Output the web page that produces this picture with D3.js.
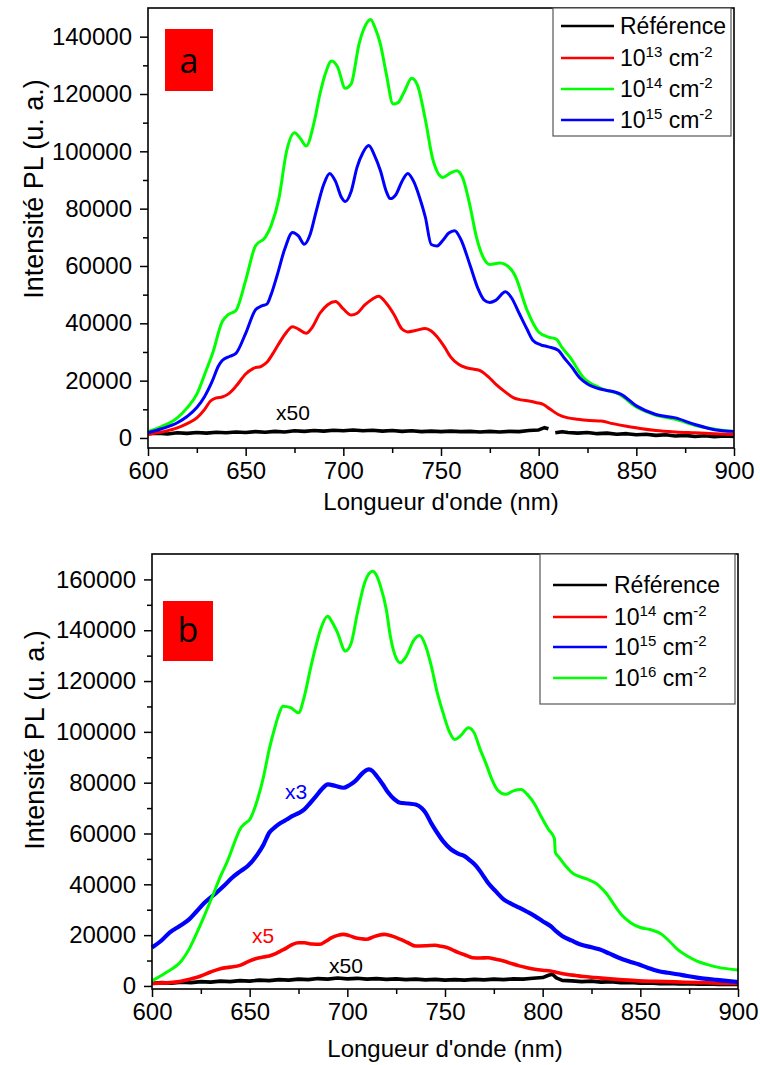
<!DOCTYPE html>
<html><head><meta charset="utf-8">
<script src="https://cdnjs.cloudflare.com/ajax/libs/d3/7.8.5/d3.min.js"></script>
<style>body{margin:0;background:#fff}svg{display:block}</style>
</head><body>
<svg id="chart" width="760" height="1065"></svg>
<script>
// ---------- Axes / legend labels ----------
const xTicks = [600, 650, 700, 750, 800, 850, 900];
const aYTicks = [0, 20000, 40000, 60000, 80000, 100000, 120000, 140000];
const bYTicks = [0, 20000, 40000, 60000, 80000, 100000, 120000, 140000, 160000];
const aLegend = ["Référence", ["10", "13"], ["10", "14"], ["10", "15"]];
const bLegend = ["Référence", ["10", "14"], ["10", "15"], ["10", "16"]];

// ---------- Data: panel a ----------
const aRef = [[600,1500],[605,1700],[610,1400],[615,1800],[620,1600],[625,1900],[630,1700],[635,2000],[640,1800],[645,2100],[650,1900],[655,2200],[660,2000],[665,2300],[670,2100],[675,2500],[680,2300],[685,2600],[690,2400],[695,2700],[700,2500],[705,2800],[710,2500],[715,2700],[720,2400],[725,2600],[730,2300],[735,2500],[740,2200],[745,2400],[750,2200],[755,2400],[760,2200],[765,2300],[770,2100],[775,2300],[780,2100],[785,2300],[790,2200],[795,2600],[800,2800],[803,3600],[805,3200],[806.5,null],[808.5,1800],[812,2200],[815,1900],[820,1700],[825,1900],[830,1500],[835,1700],[840,1300],[845,1500],[850,1100],[855,1300],[860,900],[865,1100],[870,700],[875,900],[880,500],[885,800],[890,400],[895,700],[900,500]];
const a13 = [[600,1200],[608,2200],[615,3500],[620,5000],[625,7000],[629,10000],[632,12900],[635,14000],[638,14300],[641,15300],[645,18000],[650,22300],[654,24300],[658,25000],[661,26500],[664,29500],[667,32900],[671,37000],[674,38800],[677,38000],[681,36500],[684,38500],[688,43500],[692,46500],[696,47600],[700,45000],[704,42900],[707,43500],[711,46400],[715,48500],[718,49400],[722,47000],[726,43000],[730,38000],[733,37000],[737,37500],[742,38200],[745,37300],[748,35300],[752,31500],[755,28200],[759,25700],[763,24500],[767,24000],[770,23500],[774,21500],[778,18800],[783,16000],[787,14100],[791,13300],[795,12900],[799,12300],[802,11800],[806,10000],[810,8200],[815,7000],[820,6500],[826,6100],[832,5900],[838,5000],[845,4100],[852,3300],[860,2600],[870,2100],[880,1800],[890,1500],[900,1200]];
const a14 = [[600,2300],[607,4000],[615,7000],[620,10500],[625,15300],[630,24000],[633,29400],[638,40600],[641,43000],[645,44500],[650,55000],[655,67000],[660,70000],[663,74000],[667,83500],[671,100200],[675,106500],[678,104500],[681,101900],[685,110000],[688,119900],[691,127500],[694,131500],[697,129500],[701,122000],[704,123500],[708,137300],[711,143500],[714,146000],[716,143500],[719,137300],[722,127000],[725.5,116500],[728,117000],[731,120500],[735,125500],[738,123000],[742,111000],[746,96700],[751,90900],[755,92500],[758,93200],[761,90900],[765,80500],[768,70500],[772,62500],[775,60500],[780,61000],[783,60500],[788,56500],[794,44700],[800,37000],[805,35200],[809,34500],[812,31500],[816,28200],[823,21000],[831,17600],[835,16500],[839,15900],[843,14500],[849,11200],[859,8200],[870,6500],[882,4100],[891,3000],[900,2300]];
const a15 = [[600,1800],[607,3200],[615,5300],[620,7500],[625,10600],[629,14500],[633,20000],[636,25000],[638,27000],[642,28500],[645,29500],[650,36500],[655,44700],[658,46000],[661,46800],[663,50000],[666,56500],[670,65900],[674,71700],[677,70500],[680,67600],[683,71000],[686,78800],[690,88500],[693,92300],[696,89500],[699,84000],[701,82500],[704,86000],[707,94400],[710,99500],[713,102000],[716,98500],[719,93200],[722,86000],[724,83500],[727,85000],[730,89500],[733,92300],[736,89500],[739,84000],[742,77000],[745,67500],[748,67000],[751,69000],[754,71500],[757,72300],[760,69500],[765,60000],[769,52000],[772,48200],[775,47300],[778,48000],[783,51000],[786,49000],[790,43500],[794,38000],[797,34100],[801,32500],[805,31800],[810,30600],[813,28000],[817,24700],[821,21000],[825,18800],[832,17000],[838,16200],[842,15300],[850,11200],[860,8200],[870,7000],[880,4700],[890,2900],[900,2300]];

// ---------- Data: panel b ----------
const bRef = [[600,1000],[605,1300],[610,1100],[615,1500],[620,1300],[625,1700],[630,1500],[635,1900],[640,1700],[645,2100],[650,1900],[655,2300],[660,2100],[665,2500],[670,2300],[675,2700],[680,2500],[685,2900],[690,2700],[695,3100],[700,2800],[705,3000],[710,2700],[715,2900],[720,2600],[725,2800],[730,2500],[735,2700],[740,2400],[745,2600],[750,2300],[755,2500],[760,2300],[765,2600],[770,2400],[775,2700],[780,2500],[785,2800],[790,2700],[795,3000],[800,3300],[803,4200],[805,4600],[807,3200],[810,2200],[815,2000],[820,1700],[825,1900],[830,1500],[835,1700],[840,1300],[845,1400],[850,1100],[855,1200],[860,900],[865,1000],[870,800],[875,900],[880,700],[885,800],[890,600],[895,700],[900,600]];
const b14 = [[600,1000],[606,1200],[613,1600],[619,2600],[625,3900],[630,5500],[635,6800],[640,7400],[645,8100],[649,9500],[653,10700],[657,11400],[660,11800],[663,12600],[666,13800],[669,15000],[672,16400],[675,17000],[678,17000],[682,16500],[686,16400],[689,17600],[692,19000],[695,19900],[698,20300],[701,19800],[704,19000],[707,18600],[710,18400],[713,19200],[716,20000],[719,20300],[723,19600],[727,18400],[731,17000],[735,15700],[740,15800],[745,16000],[748,15600],[751,15100],[754,14100],[757,13100],[761,12000],[764,11100],[768,11000],[772,11100],[776,10500],[780,9800],[784,8800],[788,7900],[792,7200],[796,6600],[800,6200],[804,5900],[808,5200],[812,4600],[817,4100],[821,3700],[827,3300],[833,2900],[841,2400],[849,2000],[858,1800],[868,1600],[880,1300],[890,1100],[900,1000]];
const b15 = [[600,15100],[605,18000],[609,21000],[614,23500],[619,26200],[623,29500],[627,32800],[633,36700],[637,39500],[641,42600],[645,45000],[649,47200],[654,51800],[657,55500],[660,60300],[663,62500],[666,64200],[669,65500],[672,66900],[675,68000],[678,69500],[681,72000],[684,74700],[687,77500],[690,79300],[694,78700],[698,78000],[701,79000],[704,80600],[708,83900],[711,85200],[713,84500],[715,82600],[718,79500],[721,76000],[724,73500],[727,72100],[731,71800],[735,71400],[738,70000],[740,68200],[743,64000],[746,60300],[749,57000],[753,53800],[757,52000],[760,51100],[763,49300],[766,47200],[769,44000],[772,40600],[776,37200],[780,34100],[784,32300],[788,30800],[792,29200],[796,27500],[800,25500],[804,23600],[807,21500],[810,19700],[815,17800],[819,16400],[825,15200],[829,14400],[834,12800],[839,11100],[844,9700],[849,8500],[854,7100],[859,5900],[864,5200],[869,4600],[874,3900],[879,3300],[884,2800],[889,2400],[894,2000],[900,1600]];
const b16 = [[600,2000],[607,5200],[615,9800],[619,14500],[623,21000],[627,28000],[631,35400],[635,43000],[639,49800],[642,56000],[645,61600],[648,64200],[650,65500],[654,73400],[657,82000],[660,93100],[663,102000],[665,107000],[667,110100],[671,109500],[675,107500],[678,114000],[681,124500],[684,134000],[686,139600],[690,145500],[692,143500],[695,139000],[699,131800],[702,135000],[705,146200],[709,159000],[713,163200],[715,161500],[717,157300],[720,148000],[722,137700],[725,129000],[727,127200],[730,129500],[734,136000],[737,137900],[740,134000],[743,125900],[746,115500],[749,107500],[752,100500],[755,97000],[758,98500],[762,101600],[765,99500],[768,93100],[771,87500],[774,81300],[777,77000],[781,75400],[785,76800],[789,77300],[792,75500],[796,71400],[799,67000],[803,61600],[806,58000],[806.5,52500],[808,51000],[812,47000],[815,44600],[819,43000],[823,42000],[827,40500],[829,39300],[833,36000],[837,31500],[841,27500],[845,24900],[850,23000],[855,22200],[861,20300],[865,17500],[869,14400],[874,11800],[879,9800],[884,8500],[890,7300],[900,6300]];

const RED = "#ff0000", GREEN = "#00ff00", BLUE = "#0000ff", BLACK = "#000000";
const FONT = "'Liberation Sans', Arial, sans-serif";

const svg = d3.select("#chart");

function drawPanel(cfg) {
  const x = d3.scaleLinear().domain([600, 900]).range([cfg.left, cfg.right]);
  const y = d3.scaleLinear().domain(cfg.yDomain).range([cfg.bottom, cfg.top]);
  const g = svg.append("g");

  cfg.series.forEach(s => {
    const line = d3.line()
      .defined(d => d[1] !== null)
      .x(d => x(d[0])).y(d => y(d[1]))
      .curve(s.rough ? d3.curveLinear : d3.curveMonotoneX);
    g.append("path").datum(s.data)
      .attr("fill", "none").attr("stroke", s.color)
      .attr("stroke-width", s.w).attr("stroke-linejoin", "round")
      .attr("d", line);
  });

  // frame
  g.append("rect").attr("x", cfg.left).attr("y", cfg.top)
    .attr("width", cfg.right - cfg.left).attr("height", cfg.bottom - cfg.top)
    .attr("fill", "none").attr("stroke", "#000").attr("stroke-width", 1.6);

  // axes
  const xMinor = d3.range(625, 900, 50);
  const yMinor = d3.range(10000, cfg.yDomain[1], 20000);
  g.append("g").attr("transform", `translate(0,${cfg.bottom})`)
    .call(d3.axisBottom(x).tickValues(xTicks).tickSize(8).tickPadding(6).tickFormat(d3.format("d")));
  g.append("g").attr("transform", `translate(0,${cfg.bottom})`)
    .call(d3.axisBottom(x).tickValues(xMinor).tickSize(5).tickFormat(""));
  g.append("g").attr("transform", `translate(${cfg.left},0)`)
    .call(d3.axisLeft(y).tickValues(cfg.yTicks).tickSize(8).tickPadding(8).tickFormat(d3.format("d")));
  g.append("g").attr("transform", `translate(${cfg.left},0)`)
    .call(d3.axisLeft(y).tickValues(yMinor).tickSize(5).tickFormat(""));
  g.selectAll(".domain").remove();
  g.selectAll(".tick line").attr("stroke", "#000").attr("stroke-width", 1.5);
  g.selectAll(".tick text").attr("font-family", FONT).attr("font-size", 24).attr("fill", "#000");

  // axis titles
  g.append("text").attr("x", (cfg.left + cfg.right) / 2).attr("y", cfg.xTitleY)
    .attr("text-anchor", "middle").attr("font-family", FONT).attr("font-size", 24)
    .text("Longueur d'onde (nm)");
  g.append("text").attr("transform", `translate(${cfg.yTitleX},${cfg.yTitleY}) rotate(-90)`)
    .attr("text-anchor", "middle").attr("font-family", FONT).attr("font-size", 27)
    .text("Intensité PL (u. a.)");

  // legend
  const L = cfg.legend;
  g.append("rect").attr("x", L.x0).attr("y", L.y0).attr("width", L.x1 - L.x0).attr("height", L.y1 - L.y0)
    .attr("fill", "#fff").attr("stroke", "#555").attr("stroke-width", 1.2);
  L.labels.forEach((lab, i) => {
    const cy = L.rows[i];
    g.append("line").attr("x1", L.lx0).attr("x2", L.lx1).attr("y1", cy).attr("y2", cy)
      .attr("stroke", L.colors[i]).attr("stroke-width", 2.5);
    const t = g.append("text").attr("x", L.tx).attr("y", cy + 8)
      .attr("font-family", FONT).attr("font-size", 23).attr("fill", "#000");
    if (typeof lab === "string") { t.text(lab); }
    else {
      t.append("tspan").text(lab[0]);
      t.append("tspan").attr("font-size", 15).attr("dy", -9).text(lab[1]);
      t.append("tspan").attr("dy", 9).text(" cm");
      t.append("tspan").attr("font-size", 15).attr("dy", -9).text("-2");
    }
  });

  // letter box
  const B = cfg.box;
  g.append("rect").attr("x", B.x).attr("y", B.y).attr("width", B.w).attr("height", B.h).attr("fill", "#ff0000");
  g.append("text").attr("x", B.x + B.w / 2).attr("y", B.base).attr("text-anchor", "middle")
    .attr("font-family", "'Open Sans', 'Noto Sans', sans-serif").attr("font-size", 34).attr("fill", "#000")
    .text(B.label);

  // annotations
  cfg.notes.forEach(n => {
    g.append("text").attr("x", n.x).attr("y", n.y).attr("text-anchor", "middle")
      .attr("font-family", FONT).attr("font-size", 21).attr("fill", n.color).text(n.text);
  });
}

drawPanel({
  left: 148, right: 734, top: 8, bottom: 448, yDomain: [-3500, 150000], yTicks: aYTicks,
  series: [
    {data: aRef, color: BLACK, w: 3.6, rough: true},
    {data: a13, color: RED, w: 3},
    {data: a14, color: GREEN, w: 3},
    {data: a15, color: BLUE, w: 3}
  ],
  xTitleY: 510, yTitleX: 43, yTitleY: 189,
  legend: {x0: 553, x1: 731, y0: 8, y1: 136, rows: [26, 58, 89, 120], lx0: 561, lx1: 614, tx: 620,
           labels: aLegend, colors: [BLACK, RED, GREEN, BLUE]},
  box: {x: 165, y: 29, w: 48, h: 62, base: 73, label: "a"},
  notes: [{x: 293, y: 420, text: "x50", color: "#000"}]
});

drawPanel({
  left: 152, right: 738, top: 554, bottom: 989, yDomain: [-1200, 170000], yTicks: bYTicks,
  series: [
    {data: bRef, color: BLACK, w: 3.6, rough: true},
    {data: b14, color: RED, w: 3.6},
    {data: b15, color: BLUE, w: 4.2},
    {data: b16, color: GREEN, w: 3}
  ],
  xTitleY: 1057, yTitleX: 44, yTitleY: 740,
  legend: {x0: 540, x1: 735, y0: 554, y1: 704, rows: [585, 617, 647, 678], lx0: 553, lx1: 607, tx: 614,
           labels: bLegend, colors: [BLACK, RED, BLUE, GREEN]},
  box: {x: 163, y: 601, w: 50, h: 60, base: 642, label: "b"},
  notes: [
    {x: 296, y: 799, text: "x3", color: BLUE},
    {x: 263, y: 943, text: "x5", color: RED},
    {x: 346, y: 973, text: "x50", color: "#000"}
  ]
});
</script>
</body></html>
